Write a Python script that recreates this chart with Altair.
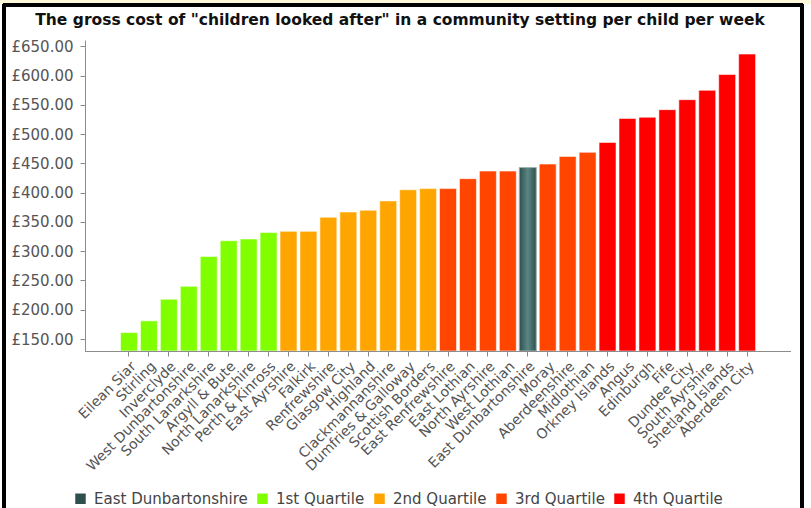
import altair as alt
import pandas as pd

# Council areas, weekly gross cost per child, and quartile group
councils = [
    "Eilean Siar", "Stirling", "Inverclyde", "West Dunbartonshire",
    "South Lanarkshire", "Argyll & Bute", "North Lanarkshire", "Perth & Kinross",
    "East Ayrshire", "Falkirk", "Renfrewshire", "Glasgow City", "Highland",
    "Clackmannanshire", "Dumfries & Galloway", "Scottish Borders",
    "East Renfrewshire", "East Lothian", "North Ayrshire", "West Lothian",
    "East Dunbartonshire", "Moray", "Aberdeenshire", "Midlothian",
    "Orkney Islands", "Angus", "Edinburgh", "Fife", "Dundee City",
    "South Ayrshire", "Shetland Islands", "Aberdeen City",
]
costs = [
    161, 181, 218, 240, 291, 318, 321, 332,
    334, 334, 358, 367, 370, 386, 405, 407,
    407, 424, 437, 437, 443, 449, 462, 469,
    486, 527, 529, 542, 559, 575, 602, 637,
]
groups = (
    ["1st Quartile"] * 8 + ["2nd Quartile"] * 8
    + ["3rd Quartile"] * 4 + ["East Dunbartonshire"] + ["3rd Quartile"] * 3
    + ["4th Quartile"] * 8
)
legend_order = ["East Dunbartonshire", "1st Quartile", "2nd Quartile",
                "3rd Quartile", "4th Quartile"]
legend_colors = ["#2f4f4f", "#7fff00", "#ffa500", "#ff4500", "#ff0000"]
y_ticks = [150, 200, 250, 300, 350, 400, 450, 500, 550, 600, 650]
title_text = ('The gross cost of "children looked after" in a community '
              'setting per child per week')

df = pd.DataFrame({"council": councils, "cost": costs, "group": groups})

W, H = 706, 311
PAD_L, PAD_T = 85, 40
Y_MIN, Y_MAX = 129.5, 661
FONT = "DejaVu Sans"
AXIS_GREY = "#8c8c8c"

x_enc = alt.X(
    "council:N", sort=councils, title=None,
    scale=alt.Scale(range=[35.5, 670.6], paddingInner=0.15, paddingOuter=0),
    axis=alt.Axis(labelAngle=-45, labelFont=FONT, labelFontSize=14,
                  labelColor="#555555", domain=False,
                  tickColor=AXIS_GREY, tickSize=5, labelPadding=3,
                  labelOverlap=False),
)
y_enc = alt.Y(
    "cost:Q", title=None,
    scale=alt.Scale(domain=[Y_MIN, Y_MAX], nice=False, zero=False),
    axis=alt.Axis(values=y_ticks, tickCount=11,
                  labelExpr="'£' + format(datum.value, '.2f')",
                  labelFont=FONT, labelFontSize=15, labelColor="#555555",
                  labelOverlap=False, grid=False, domainColor=AXIS_GREY,
                  tickColor=AXIS_GREY, tickSize=5, labelPadding=7),
)

bars = alt.Chart(df).mark_bar(
    stroke="white", strokeOpacity=0.55, strokeWidth=1
).encode(
    x=x_enc,
    y=y_enc,
    y2=alt.datum(Y_MIN),
    color=alt.Color(
        "group:N",
        scale=alt.Scale(domain=legend_order, range=legend_colors),
        legend=alt.Legend(
            title=None, orient="none", direction="horizontal",
            legendX=-12, legendY=451, symbolType="square", symbolSize=110,
            symbolStrokeWidth=0, labelFont=FONT, labelFontSize=15,
            labelColor="#444444", columnPadding=7, labelOffset=6,
        ),
    ),
)

# Highlighted council drawn with a shaded fill
highlight = alt.Chart(df).transform_filter(
    alt.datum.group == "East Dunbartonshire"
).mark_bar(
    color=alt.LinearGradient(
        gradient="linear", x1=0, x2=1, y1=0, y2=0,
        stops=[alt.GradientStop(color="#2f4f4f", offset=0),
               alt.GradientStop(color="#5b8783", offset=0.5),
               alt.GradientStop(color="#2f4f4f", offset=1)],
    ),
    stroke="#9fb5b3", strokeWidth=1,
).encode(x=x_enc, y=y_enc, y2=alt.datum(Y_MIN))

# Category axis baseline across the full plot width
baseline = alt.Chart(df).mark_rule(color=AXIS_GREY, strokeWidth=1).encode(
    x=alt.value(0), x2=alt.value(W), y=alt.value(H + 0.5),
)

# Chart heading, centred on the page
heading = alt.Chart(pd.DataFrame({"t": [title_text]})).mark_text(
    font=FONT, fontSize=15.5, fontWeight="bold", color="#111111",
    align="center", baseline="middle",
).encode(x=alt.value(400 - PAD_L), y=alt.value(20 - PAD_T), text="t:N")

# Page frame: pale band on top, dark border lines
frame_band = alt.Chart(df).mark_rect(color="#fdf8da").encode(
    x=alt.value(-PAD_L), x2=alt.value(811 - PAD_L),
    y=alt.value(-PAD_T), y2=alt.value(4 - PAD_T),
)
frame_top = alt.Chart(df).mark_rule(color="black", strokeWidth=3).encode(
    x=alt.value(3 - PAD_L), x2=alt.value(803 - PAD_L),
    y=alt.value(5 - PAD_T),
)
frame_left = alt.Chart(df).mark_rule(color="black", strokeWidth=3).encode(
    x=alt.value(4 - PAD_L), y=alt.value(4 - PAD_T), y2=alt.value(508 - PAD_T),
)
frame_right = alt.Chart(df).mark_rule(color="black", strokeWidth=3).encode(
    x=alt.value(802 - PAD_L), y=alt.value(4 - PAD_T), y2=alt.value(508 - PAD_T),
)

chart = alt.layer(
    bars, highlight, baseline, heading,
    frame_band, frame_top, frame_left, frame_right,
).properties(
    width=W, height=H,
    autosize=alt.AutoSizeParams(type="none"),
    padding={"left": PAD_L, "top": PAD_T, "right": 811 - PAD_L - W,
             "bottom": 508 - PAD_T - H},
    background="white",
).configure_view(stroke=None)

chart.save("out.html", embed_options={"renderer": "svg", "actions": False})
